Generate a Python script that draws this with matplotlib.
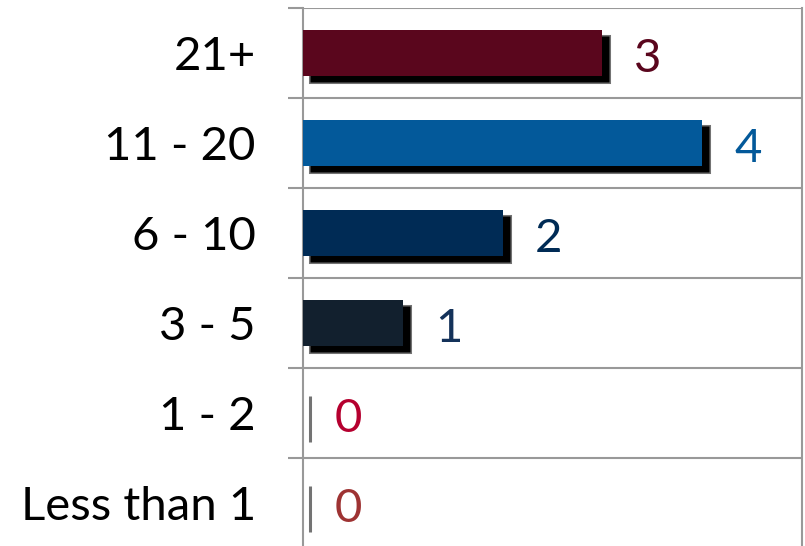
import matplotlib
matplotlib.use("Agg")
import matplotlib.pyplot as plt
import matplotlib.transforms as mtransforms
import numpy as np

categories = ["21+", "11 - 20", "6 - 10", "3 - 5", "1 - 2", "Less than 1"]
values = [3, 4, 2, 1, 0, 0]
bar_colors = ["#5A061D", "#03599A", "#002B55", "#12202E", "#B5002F", "#9E3333"]
label_colors = ["#5A061D", "#03599A", "#002B55", "#14325A", "#B5002F", "#9E3333"]

plt.rcParams['font.family'] = ['Lato', 'DejaVu Sans']

fig = plt.figure(figsize=(8.05, 5.46), dpi=100)
ax = fig.add_axes([303 / 805, -2 / 546, (802 - 303) / 805, (548 - 8 + 2) / 546 - 0.0037])

y = np.arange(len(categories))
height = 0.52

# shadows
shadow_tr = mtransforms.offset_copy(ax.transData, fig=fig, x=7, y=-6, units='dots')
ax.barh(y, values, height=height, left=0, color='black', edgecolor=(0, 0, 0, 0.55),
        linewidth=2.2, transform=shadow_tr, zorder=2)
ax.barh(y, values, height=height, color=bar_colors, edgecolor='none', zorder=3)

for yi, v, c in zip(y, values, label_colors):
    ax.annotate(str(v), xy=(v, yi), xytext=(32, -6), textcoords='offset pixels',
                ha='left', va='center', fontsize=34, color=c, zorder=4)

ax.set_xlim(0, 5)
ax.set_ylim(len(categories) - 0.5, -0.5)
ax.set_yticks(y)
ax.set_yticklabels(categories, fontsize=34, color='black')
for lbl in ax.get_yticklabels():
    lbl.set_transform(lbl.get_transform() + mtransforms.ScaledTranslation(0, -6 / 100, fig.dpi_scale_trans))
ax.set_yticks(np.arange(-0.5, len(categories) + 0.5, 1), minor=True)
ax.tick_params(axis='y', which='major', length=0, pad=34)
ax.tick_params(axis='y', which='minor', length=11, width=1.5, color='#999999', direction='out')
ax.set_xticks([])
ax.grid(True, axis='y', which='minor', color='#999999', linewidth=1.5, zorder=0)
ax.grid(False, axis='y', which='major')
for s in ['top', 'bottom']:
    ax.spines[s].set_visible(False)
for s in ['left', 'right']:
    ax.spines[s].set_color('#999999')
    ax.spines[s].set_linewidth(1.5)
ax.set_axisbelow(True)

fig.savefig("out.png", dpi=100)
